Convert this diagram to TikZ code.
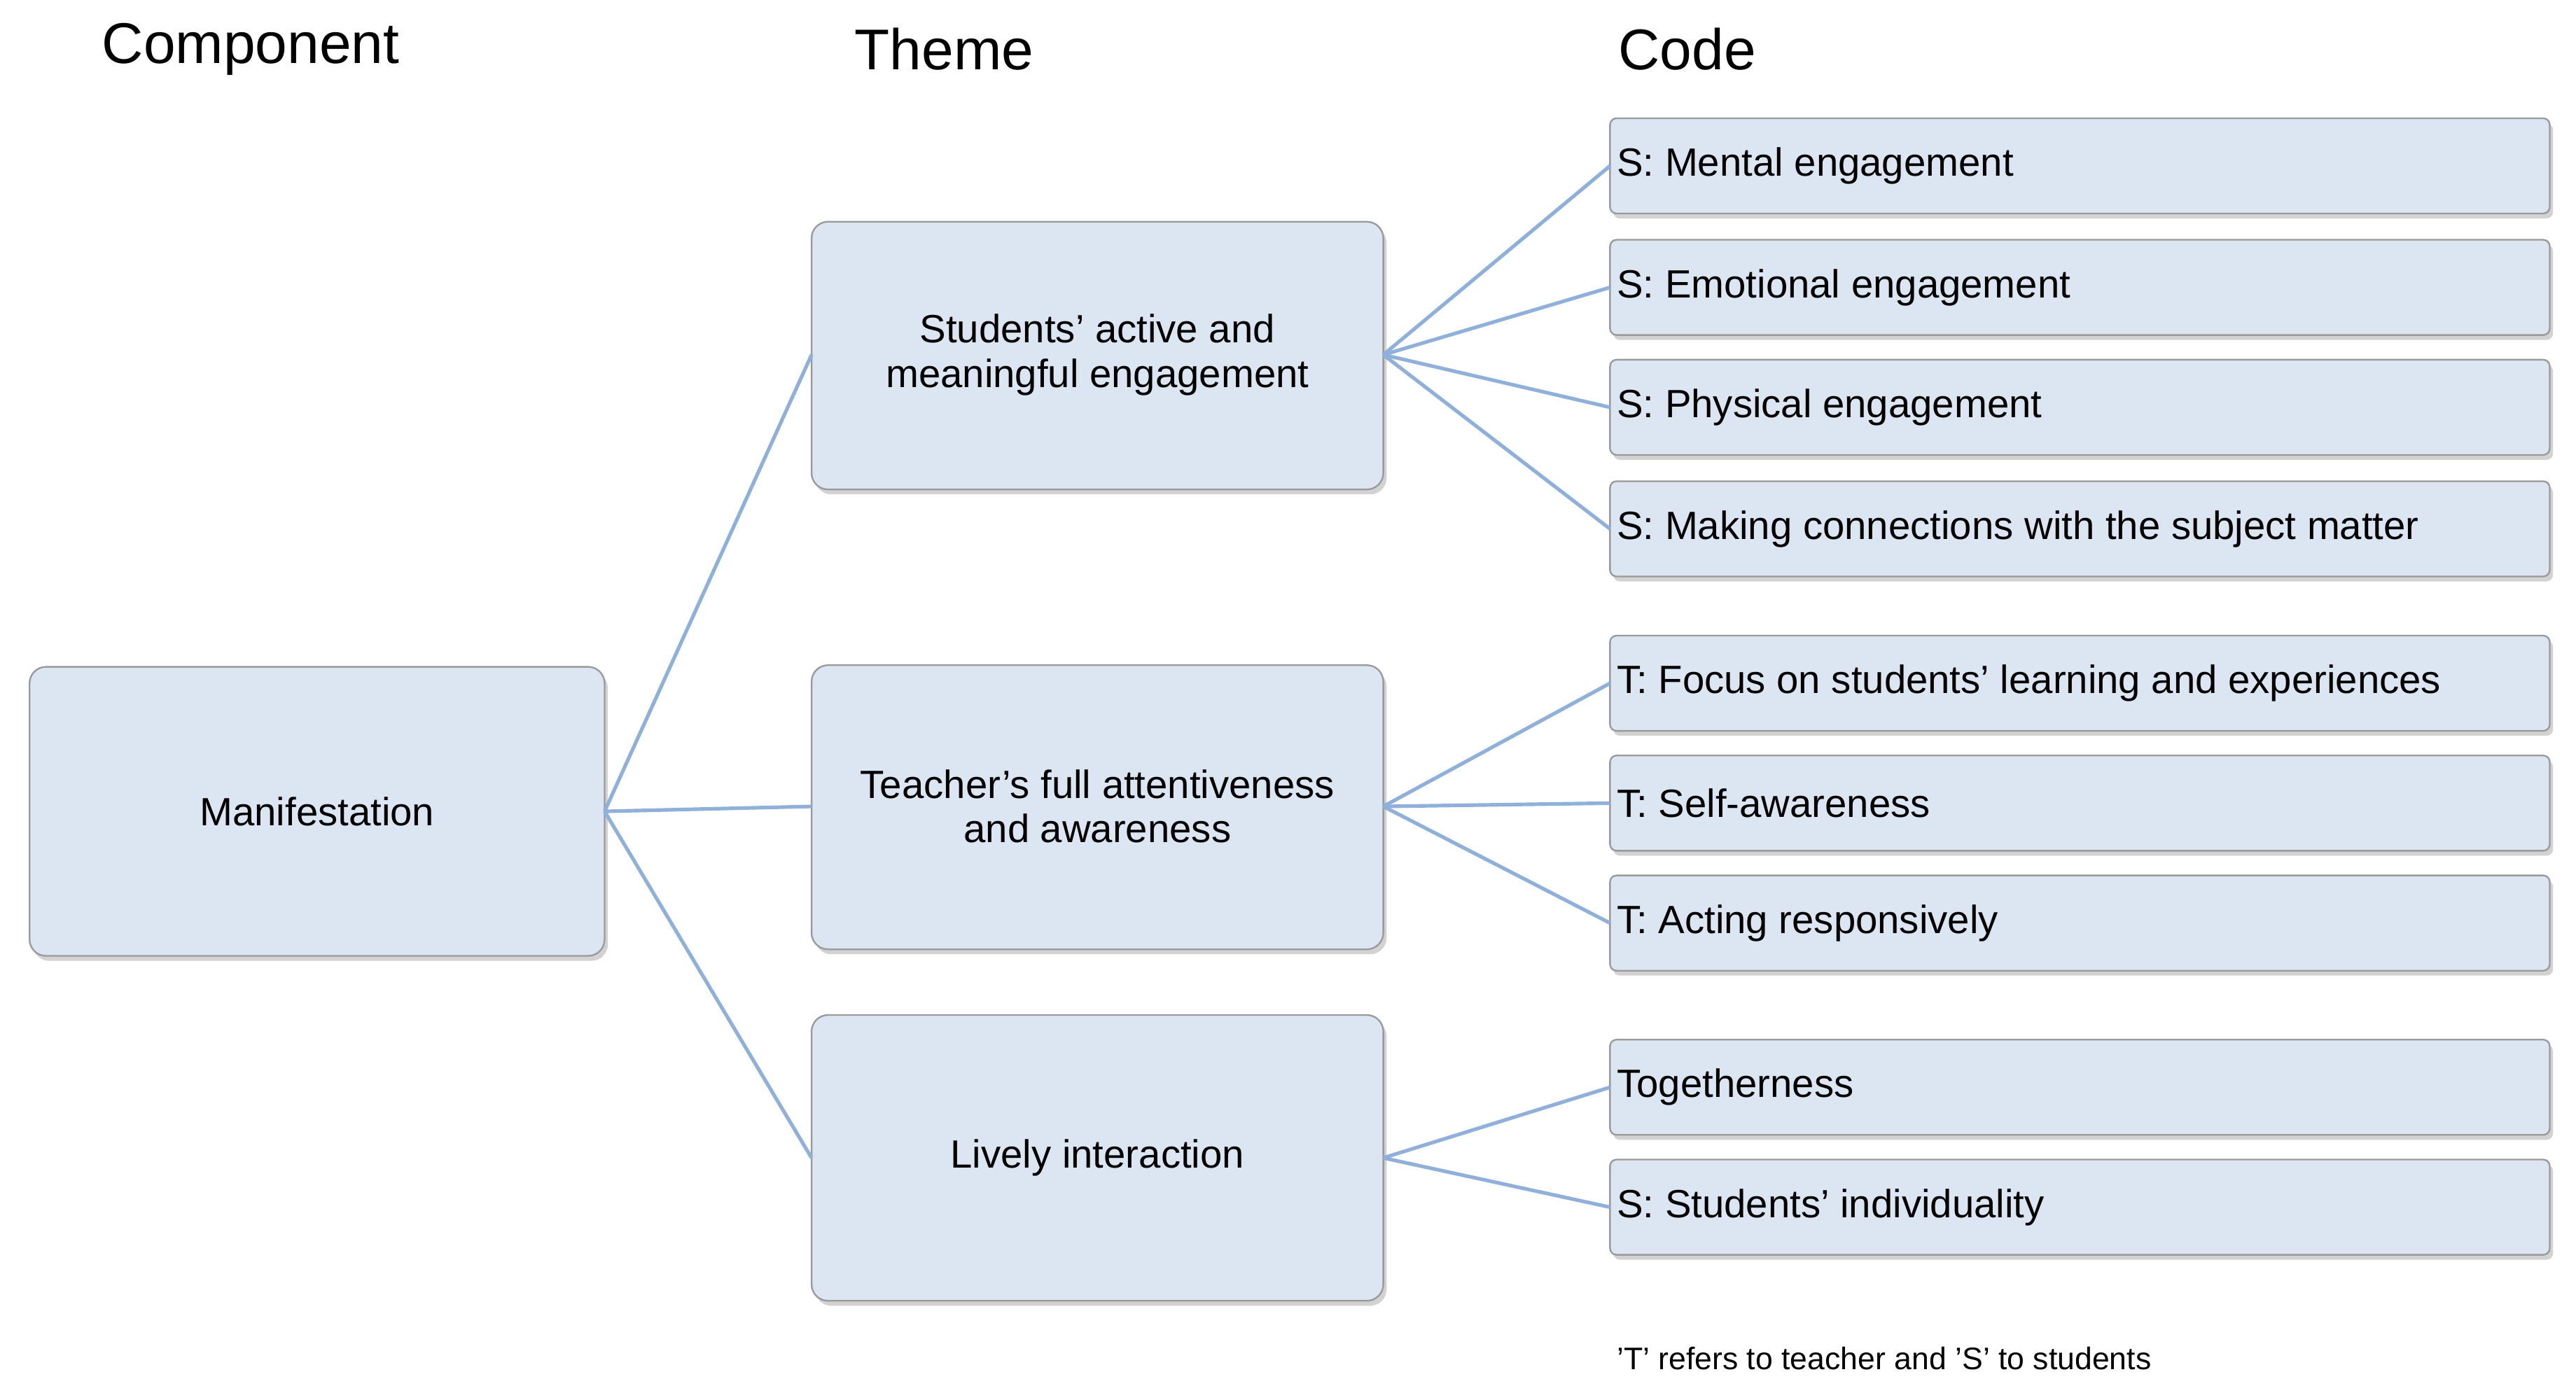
\documentclass[tikz,border=0pt]{standalone}
\usepackage{fontspec}
\setmainfont{Liberation Sans}
\usetikzlibrary{shadows}
\definecolor{boxfill}{HTML}{DCE6F2}
\definecolor{boxline}{HTML}{9A9A9A}
\definecolor{conn}{HTML}{8EB0DA}
\begin{document}
\begin{tikzpicture}[x=1pt,y=-1pt,
  box/.style={draw=boxline,fill=boxfill,rounded corners=10pt,line width=1pt,
    drop shadow={shadow xshift=2pt,shadow yshift=-3pt,fill=black!35,opacity=0.5}},
  code/.style={draw=boxline,fill=boxfill,rounded corners=4pt,line width=1pt,
    drop shadow={shadow xshift=2pt,shadow yshift=-3pt,fill=black!35,opacity=0.5}},
  lbl/.style={font=\fontsize{24}{27}\selectfont,align=center},
  ctext/.style={font=\fontsize{24}{27}\selectfont,anchor=west,inner sep=0pt},
  head/.style={font=\fontsize{35}{40}\selectfont,anchor=west,inner sep=0pt},
  link/.style={draw=conn,line width=2.2pt}]
\useasboundingbox (0,0) rectangle (1568,848);
\node[head] (h1) at (62,30) {Component};
\node[head] (h2) at (520,30) {Theme};
\node[head] (h3) at (985,30) {Code};
% manifestation
\path[box] (18,406) rectangle (368,582);
\node[lbl] (m) at (193,494) {Manifestation};
\coordinate (mR) at (368,494);
% themes
\path[box] (494,135) rectangle (842,298);
\node[lbl] (t1) at (668,216) {Students’ active and\\meaningful engagement};
\coordinate (t1L) at (494,216); \coordinate (t1R) at (842,216);
\path[box] (494,405) rectangle (842,578);
\node[lbl] (t2) at (668,491) {Teacher’s full attentiveness\\and awareness};
\coordinate (t2L) at (494,491); \coordinate (t2R) at (842,491);
\path[box] (494,618) rectangle (842,792);
\node[lbl] (t3) at (668,705) {Lively interaction};
\coordinate (t3L) at (494,705); \coordinate (t3R) at (842,705);
% codes
\foreach \i/\y/\t in {1/72/{S: Mental engagement},2/146/{S: Emotional engagement},
  3/219/{S: Physical engagement},4/293/{S: Making connections with the subject matter},
  5/387/{T: Focus on students’ learning and experiences},6/460/{T: Self-awareness},
  7/533/{T: Acting responsively},8/633/{Togetherness},9/706/{S: Students’ individuality}}{
  \path[code] (980,\y) rectangle (1552,\y+58);
  \coordinate (c\i) at (980,\y+29);
  \node[ctext] (ct\i) at (984,\y+29) {\t};
}
\draw[link] (mR) -- (t1L);
\draw[link] (mR) -- (t2L);
\draw[link] (mR) -- (t3L);
\foreach \i in {1,2,3,4} \draw[link] (t1R) -- (c\i);
\foreach \i in {5,6,7} \draw[link] (t2R) -- (c\i);
\foreach \i in {8,9} \draw[link] (t3R) -- (c\i);
\node[anchor=west,inner sep=0pt,font=\fontsize{19}{22}\selectfont] (note) at (984,827) {'T' refers to teacher and 'S' to students};
\end{tikzpicture}
\end{document}
